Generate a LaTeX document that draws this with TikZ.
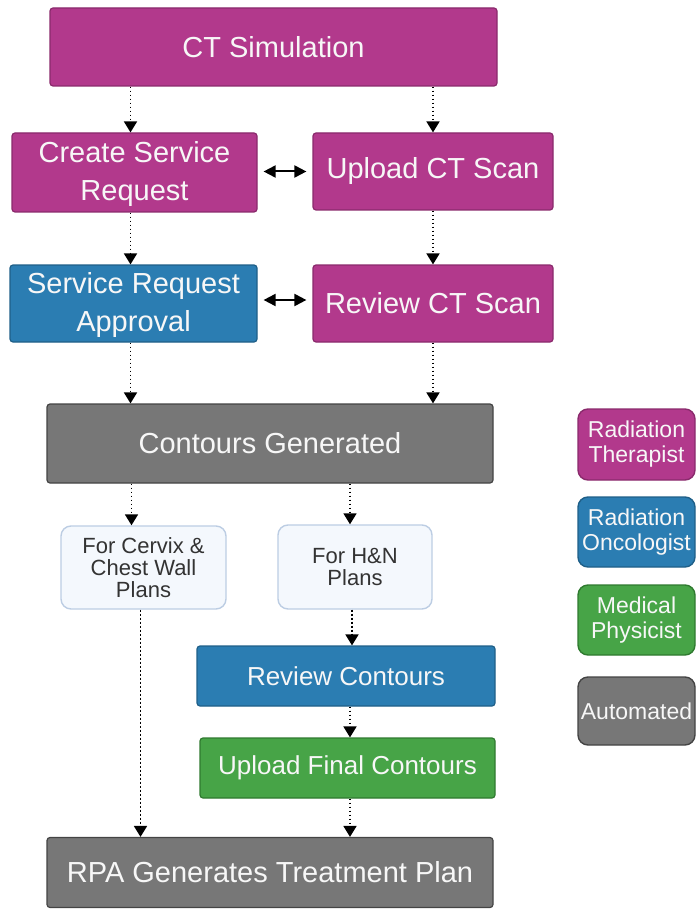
\documentclass[tikz,border=0pt]{standalone}
\usepackage{fontspec}
\setmainfont{Liberation Sans}
\usetikzlibrary{arrows.meta,positioning}
\definecolor{rtfill}{HTML}{B2398C}
\definecolor{rtdraw}{HTML}{8A2A6C}
\definecolor{rofill}{HTML}{2B7DB2}
\definecolor{rodraw}{HTML}{1F5F88}
\definecolor{mpfill}{HTML}{47A447}
\definecolor{mpdraw}{HTML}{2F7A2F}
\definecolor{aufill}{HTML}{777777}
\definecolor{audraw}{HTML}{444444}
\definecolor{wfill}{HTML}{F4F8FD}
\definecolor{wdraw}{HTML}{BCCDE3}
\definecolor{txtw}{HTML}{F7F7F7}
\definecolor{txtd}{HTML}{333333}
\tikzset{
  box/.style={rectangle, rounded corners=3pt, line width=1.2pt, text=txtw, align=center, inner sep=0pt,
    font=\fontsize{29}{38}\selectfont},
  rt/.style={box, fill=rtfill, draw=rtdraw},
  ro/.style={box, fill=rofill, draw=rodraw},
  mp/.style={box, fill=mpfill, draw=mpdraw},
  au/.style={box, fill=aufill, draw=audraw},
  opt/.style={rectangle, rounded corners=10pt, line width=1.4pt, fill=wfill, draw=wdraw, text=txtd, align=center,
    inner sep=0pt, font=\fontsize{22}{22}\selectfont},
  leg/.style={rounded corners=10pt, line width=1.4pt, inner sep=0pt, align=center, text=txtw,
    font=\fontsize{23}{25}\selectfont},
  flow/.style={line width=1.8pt, dash pattern=on 1.8pt off 2.2pt, -{Triangle[width=13pt,length=11pt]}},
  both/.style={line width=2pt, {Triangle[width=12pt,length=12pt]}-{Triangle[width=12pt,length=12pt]}}
}
\begin{document}
\begin{tikzpicture}[x=1pt,y=-1pt]
\useasboundingbox (0,0) rectangle (698,909);
% main column
\node[rt, minimum width=447pt, minimum height=78pt] (ctsim) at (273.5,47) {CT Simulation};
\node[rt, minimum width=245pt, minimum height=79pt, text depth=4pt] (csr) at (134.5,172.5) {Create Service\\Request};
\node[rt, minimum width=240pt, minimum height=77pt] (upl) at (433,171.5) {Upload CT Scan};
\node[ro, minimum width=247pt, minimum height=77pt, text depth=4pt] (sra) at (133.5,303.5) {Service Request\\Approval};
\node[rt, minimum width=240pt, minimum height=77pt] (rct) at (433,303.5) {Review CT Scan};
\node[au, minimum width=446pt, minimum height=79pt] (cg) at (270,443.5) {Contours Generated};
\node[opt, minimum width=165pt, minimum height=83pt] (cerv) at (143.5,567.5) {For Cervix \&\\Chest Wall\\Plans};
\node[opt, minimum width=154pt, minimum height=84pt] (hn) at (355,567) {For H\&N\\Plans};
\node[ro, minimum width=298pt, minimum height=60pt, font=\fontsize{26}{30}\selectfont] (rc) at (346,676) {Review Contours};
\node[mp, minimum width=295pt, minimum height=60pt, font=\fontsize{26}{30}\selectfont] (ufc) at (347.5,768) {Upload Final Contours};
\node[au, minimum width=446pt, minimum height=70pt] (rpa) at (270,872.5) {RPA Generates Treatment Plan};
% legend
\node[leg, fill=rtfill, draw=rtdraw, minimum width=117pt, minimum height=71pt] (l1) at (636.5,444.5) {Radiation\\Therapist};
\node[leg, fill=rofill, draw=rodraw, minimum width=117pt, minimum height=70pt] (l2) at (636.5,532) {Radiation\\Oncologist};
\node[leg, fill=mpfill, draw=mpdraw, minimum width=117pt, minimum height=70pt] (l3) at (636.5,620) {Medical\\Physicist};
\node[leg, fill=aufill, draw=audraw, minimum width=117pt, minimum height=68pt] (l4) at (636.5,711) {Automated};
% flows
\draw[flow] ([xshift=-4pt]ctsim.south -| csr.north) -- ([xshift=-4pt]csr.north);
\draw[flow] (ctsim.south -| upl.north) -- (upl.north);
\draw[flow] ([xshift=-4pt]csr.south) -- ([xshift=-4pt]sra.north -| csr.south);
\draw[flow] (upl.south) -- (rct.north);
\draw[flow] ([xshift=-3pt]sra.south) -- ([xshift=-3pt]cg.north -| sra.south);
\draw[flow] (rct.south) -- (cg.north -| rct.south);
\draw[flow] ([xshift=-12pt]cg.south -| cerv.north) -- ([xshift=-12pt]cerv.north);
\draw[flow] ([xshift=-5pt]cg.south -| hn.north) -- ([xshift=-5pt]hn.north);
\draw[flow] ([xshift=-3pt]cerv.south) -- ([xshift=-3pt]rpa.north -| cerv.south);
\draw[flow] ([xshift=-3pt]hn.south) -- ([xshift=-3pt]rc.north -| hn.south);
\draw[flow] ([xshift=4pt]rc.south) -- ([xshift=4pt]ufc.north -| rc.south);
\draw[flow] ([xshift=2.5pt]ufc.south) -- ([xshift=2.5pt]rpa.north -| ufc.south);
% double arrows
\draw[both] ([xshift=6pt]csr.east |- upl.east) -- ([xshift=-6pt]upl.west);
\draw[both] ([xshift=6pt]sra.east |- 0,300) -- ([xshift=-6pt]rct.west |- 0,300);
\end{tikzpicture}
\end{document}
